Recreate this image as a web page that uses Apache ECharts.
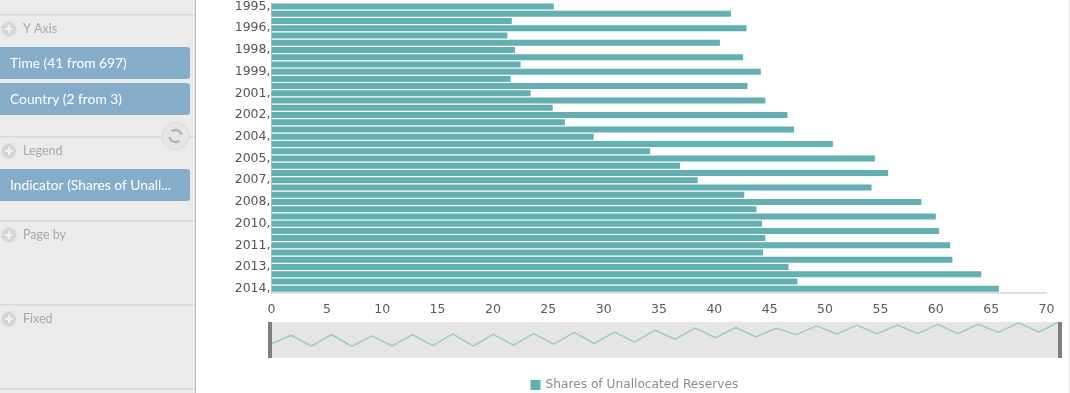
<!DOCTYPE html>
<html><head><meta charset="utf-8">
<style>html,body{margin:0;padding:0;background:#fff}#c{width:1070px;height:393px}</style>
<script src="https://cdn.jsdelivr.net/npm/echarts@6/dist/echarts.min.js"></script>
</head><body><div id="c"></div>
<script>
const categories = ['1995,','1995,','1996,','1996,','1997,','1997,','1998,','1998,','1999,','1999,','2000,','2000,','2001,','2001,','2002,','2002,','2003,','2003,','2004,','2004,','2005,','2005,','2006,','2006,','2007,','2007,','2008,','2008,','2009,','2009,','2010,','2010,','2011,','2011,','2012,','2012,','2013,','2013,','2014,','2014,'];
const shares = [25.5,41.5,21.7,42.9,21.3,40.5,22,42.6,22.5,44.2,21.6,43,23.4,44.6,25.4,46.6,26.5,47.2,29.1,50.7,34.2,54.5,36.9,55.7,38.5,54.2,42.7,58.7,43.8,60,44.3,60.3,44.6,61.3,44.4,61.5,46.7,64.1,47.5,65.7];
const seriesName = 'Shares of Unallocated Reserves';
const panelBlocks = ['Time (41 from 697)','Country (2 from 3)','Indicator (Shares of Unall...'];
const panelHeads = ['Y Axis','Legend','Page by','Fixed'];

const F = '"DejaVu Sans", sans-serif';
const S = 'Lato, "Open Sans", sans-serif';
const chart = echarts.init(document.getElementById('c'), null, {renderer:'canvas'});

function plus(cx, cy){
  return [
    {type:'circle',shape:{cx,cy,r:7.5},style:{fill:'#d6d6d6',stroke:'#e2e2e2'}},
    {type:'rect',shape:{x:cx-4,y:cy-1,width:8,height:2},style:{fill:'#f2f2f2'}},
    {type:'rect',shape:{x:cx-1,y:cy-4,width:2,height:8},style:{fill:'#f2f2f2'}}
  ];
}
function head(t, y){
  return [...plus(9,y),{type:'text',style:{x:23,y,text:t,fill:'#a8a8a8',font:'12.5px '+S,verticalAlign:'middle'}}];
}
function block(t, y){
  return [{type:'rect',shape:{x:-4,y,width:194,height:32,r:3},style:{fill:'#85adc9'}},
    {type:'text',style:{x:10,y:y+16.5,text:t,fill:'#fff',font:'13.8px '+S,verticalAlign:'middle'}}];
}
function sep(y){ return {type:'rect',shape:{x:0,y,width:195,height:1.5},style:{fill:'#d9d9d9'}}; }

const sidebar = [
  {type:'rect',shape:{x:0,y:0,width:195,height:393},style:{fill:'#ebebeb'}},
  {type:'rect',shape:{x:195,y:0,width:1,height:393},style:{fill:'#b9b9b9'}},
  {type:'rect',shape:{x:1069,y:0,width:1,height:393},style:{fill:'#ececec'}},
  sep(14),sep(136),sep(220),sep(304),sep(388),
  ...head(panelHeads[0],29),...head(panelHeads[1],151),...head(panelHeads[2],235),...head(panelHeads[3],319),
  ...block(panelBlocks[0],47),...block(panelBlocks[1],83),...block(panelBlocks[2],169),
  {type:'circle',shape:{cx:175.5,cy:136,r:13.5},style:{fill:'#e6e6e6',stroke:'#d8d8d8'}},
  {type:'arc',shape:{cx:175.5,cy:136,r:6,startAngle:0.9,endAngle:3.0},style:{fill:'none',stroke:'#b5b5b5',lineWidth:2.5}},
  {type:'arc',shape:{cx:175.5,cy:136,r:6,startAngle:4.0,endAngle:6.1},style:{fill:'none',stroke:'#b5b5b5',lineWidth:2.5}}
];

chart.setOption({
  animation:false,
  textStyle:{fontFamily:F},
  legend:{left:525.5,top:374,itemWidth:10,itemHeight:10,itemGap:4,icon:'rect',
    data:[seriesName],
    textStyle:{color:'#8c8c8c',fontSize:12.2,fontFamily:F}},
  grid:[
    {left:271.5,top:2.4,width:775,height:290,containLabel:false},
    {left:271,top:322,width:788,height:36,show:true,backgroundColor:'#e5e5e5',borderWidth:0}
  ],
  xAxis:[
    {type:'value',gridIndex:0,min:0,max:70,interval:5,position:'bottom',
      axisLine:{show:true,lineStyle:{color:'#d5d5d5',width:1.5}},axisTick:{show:false},splitLine:{show:false},
      axisLabel:{color:'#5a5a5a',fontSize:12.5,fontFamily:F,margin:11}},
    {type:'category',gridIndex:1,show:false,boundaryGap:false,data:categories}
  ],
  yAxis:[
    {type:'category',gridIndex:0,inverse:true,data:categories,
      axisLine:{show:true,lineStyle:{color:'#cfcfcf'}},axisTick:{show:false},
      axisLabel:{color:'#555',fontSize:12.5,fontFamily:F,margin:1,padding:[2,0,0,0],
        interval:(i)=>i%3===0}},
    {type:'value',gridIndex:1,show:false,min:0,max:65.7,splitLine:{show:false}}
  ],
  dataZoom:[{type:'slider',yAxisIndex:0,orient:'horizontal',filterMode:'none',left:269,width:792,top:322,height:36,
    showDataShadow:false,showDetail:false,brushSelect:false,moveHandleSize:0,
    backgroundColor:'transparent',borderColor:'transparent',fillerColor:'transparent',
    handleIcon:'path://M0,0H4V36H0Z',handleSize:'100%',
    handleStyle:{color:'#7f7f7f',borderWidth:0,shadowBlur:0},emphasis:{handleStyle:{color:'#7f7f7f',borderWidth:0}}}],
  series:[
    {name:seriesName,type:'bar',xAxisIndex:0,yAxisIndex:0,data:shares,barWidth:6,itemStyle:{color:'#64afb1'}},
    {name:seriesName+' overview',type:'line',xAxisIndex:1,yAxisIndex:1,data:shares,showSymbol:false,silent:true,
      lineStyle:{color:'#9fc9c9',width:1.5},itemStyle:{color:'#9fc9c9'}}
  ],
  graphic:sidebar.map(e=>Object.assign(e,{silent:true,z:-1}))
});
</script></body></html>
